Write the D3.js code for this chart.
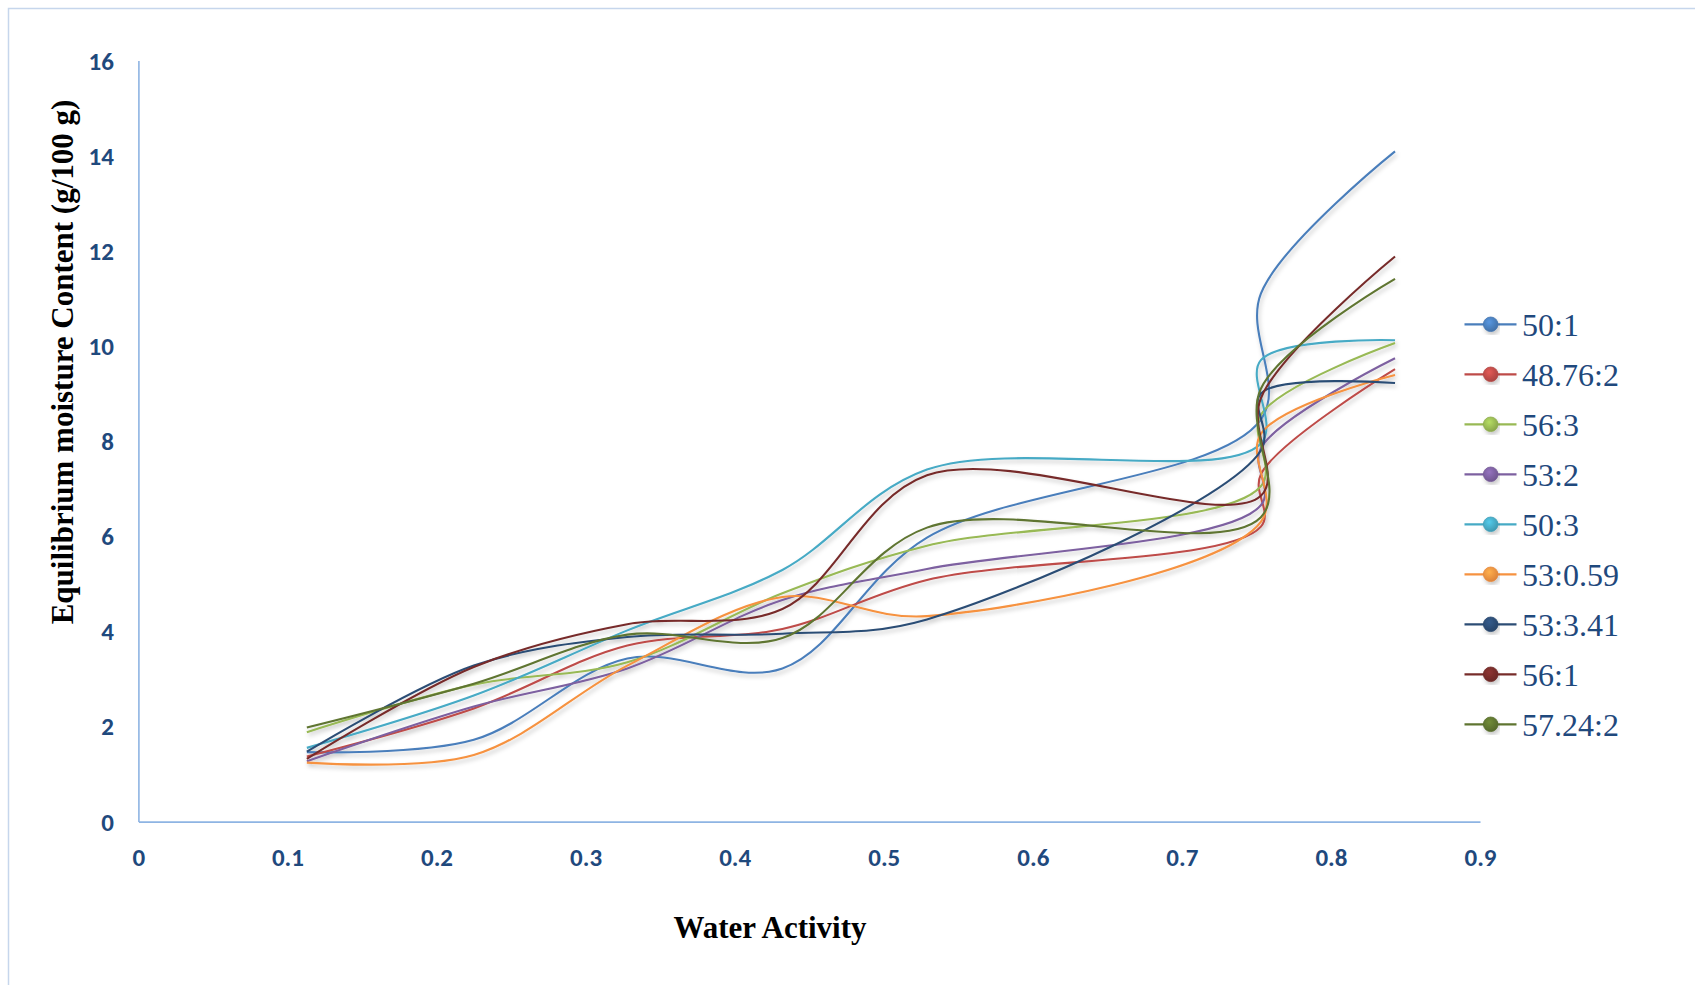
<!DOCTYPE html>
<html>
<head>
<meta charset="utf-8">
<script src="https://cdn.jsdelivr.net/npm/d3@7"></script>
<style>
  html, body { margin: 0; padding: 0; background: #ffffff; }
  svg { display: block; }
</style>
</head>
<body>
<svg id="chart" width="1695" height="985"></svg>
<script>
// ---------------- data ----------------
const waterActivity = [0.113, 0.225, 0.328, 0.432, 0.529, 0.753, 0.753, 0.843];
const seriesNames = ["50:1", "48.76:2", "56:3", "53:2", "50:3", "53:0.59", "53:3.41", "56:1", "57.24:2"];
const s50_1    = [1.46, 1.72, 3.43, 3.22, 5.97, 8.45, 11.1, 14.09];
const s48_76_2 = [1.37, 2.38, 3.70, 4.05, 5.08, 6.20, 7.30, 9.51];
const s56_3    = [1.88, 2.88, 3.35, 4.80, 5.80, 7.05, 8.55, 10.06];
const s53_2    = [1.27, 2.42, 3.22, 4.66, 5.31, 6.65, 7.85, 9.74];
const s50_3    = [1.55, 2.65, 4.02, 5.29, 7.40, 7.95, 9.70, 10.12];
const s53_059  = [1.24, 1.40, 3.28, 4.72, 4.32, 6.30, 8.15, 9.39];
const s53_341  = [1.47, 3.28, 3.88, 3.95, 4.25, 7.80, 9.00, 9.22];
const s56_1    = [1.32, 3.25, 4.15, 4.47, 7.28, 6.85, 8.90, 11.88];
const s57_24_2 = [1.98, 2.90, 3.93, 3.86, 6.18, 6.40, 9.10, 11.41];
const seriesValues = [s50_1, s48_76_2, s56_3, s53_2, s50_3, s53_059, s53_341, s56_1, s57_24_2];
const seriesColors = ["#4a7ebb", "#be4b48", "#98b954", "#7d60a0", "#46aac5", "#f69240", "#2c4d75", "#772c2a", "#5f7530"];
const xTicks = [0, 0.1, 0.2, 0.3, 0.4, 0.5, 0.6, 0.7, 0.8, 0.9];
const yTicks = [0, 2, 4, 6, 8, 10, 12, 14, 16];
const xTitle = "Water Activity";
const yTitle = "Equilibrium moisture Content (g/100 g)";

// ---------------- layout ----------------
const svg = d3.select("#chart");
const x = d3.scaleLinear().domain([0, 0.9]).range([138.4, 1480]);
const y = d3.scaleLinear().domain([0, 16]).range([821.6, 60.5]);

const defs = svg.append("defs");
const f = defs.append("filter").attr("id", "shadow")
  .attr("x", "-10%").attr("y", "-10%").attr("width", "120%").attr("height", "130%");
f.append("feDropShadow").attr("dx", 1.5).attr("dy", 3).attr("stdDeviation", 2)
  .attr("flood-color", "#000").attr("flood-opacity", 0.22);

seriesColors.forEach((c, i) => {
  const g = defs.append("radialGradient").attr("id", "mk" + i)
    .attr("cx", "40%").attr("cy", "35%").attr("r", "65%");
  g.append("stop").attr("offset", "0%").attr("stop-color", d3.color(c).brighter(0.5));
  g.append("stop").attr("offset", "100%").attr("stop-color", d3.color(c).darker(0.3));
});

// outer chart border
svg.append("rect").attr("x", 8.5).attr("y", 8.5).attr("width", 1720).attr("height", 1020)
  .attr("fill", "none").attr("stroke", "#c6d6ec").attr("stroke-width", 1.5);

const tickFont = "Carlito, Lato, 'Open Sans', sans-serif";
const axisColor = "#8eb4e3";

// x axis
const gx = svg.append("g").attr("transform", `translate(0,${y(0)})`)
  .call(d3.axisBottom(x).tickValues(xTicks).tickSize(0).tickSizeOuter(0).tickFormat(d => String(d)));
gx.select(".domain").attr("stroke", axisColor).attr("stroke-width", 1.6);
gx.selectAll("text").attr("y", 35.5).attr("dy", "0.35em")
  .attr("fill", "#1f497d").style("font-family", tickFont).style("font-weight", "bold").style("font-size", "25px");

// y axis
const gy = svg.append("g").attr("transform", `translate(${x(0)},0)`)
  .call(d3.axisLeft(y).tickValues(yTicks).tickSize(0).tickSizeOuter(0).tickFormat(d => String(d)));
gy.select(".domain").attr("stroke", axisColor).attr("stroke-width", 1.6);
gy.selectAll("text").attr("x", -24.5).attr("dy", "0.34em")
  .attr("fill", "#1f497d").style("font-family", tickFont).style("font-weight", "bold").style("font-size", "25px");

// titles
svg.append("text").attr("x", 770).attr("y", 938).attr("text-anchor", "middle")
  .style("font-family", "'Liberation Serif', 'Times New Roman', serif").style("font-weight", "bold")
  .style("font-size", "31px").attr("fill", "#000").text(xTitle);
svg.append("text").attr("transform", "translate(73,362) rotate(-90)").attr("text-anchor", "middle")
  .style("font-family", "'Liberation Serif', 'Times New Roman', serif").style("font-weight", "bold")
  .style("font-size", "31px").attr("fill", "#000").text(yTitle);

// lines
const line = d3.line().x(d => x(d[0])).y(d => y(d[1])).curve(d3.curveCatmullRom.alpha(0.5));
const gl = svg.append("g").attr("filter", "url(#shadow)");
seriesValues.forEach((vals, i) => {
  const pts = waterActivity.map((w, k) => [w, vals[k]]);
  gl.append("path").attr("d", line(pts)).attr("fill", "none")
    .attr("stroke", seriesColors[i]).attr("stroke-width", 2.1).attr("stroke-linejoin", "round");
});

// legend
const leg = svg.append("g");
seriesNames.forEach((name, i) => {
  const cy = 324.3 + i * 50;
  const r = leg.append("g");
  r.append("line").attr("x1", 1464.5).attr("x2", 1516.5).attr("y1", cy).attr("y2", cy)
    .attr("stroke", seriesColors[i]).attr("stroke-width", 2.2);
  r.append("circle").attr("cx", 1490.7).attr("cy", cy).attr("r", 7.3)
    .attr("fill", `url(#mk${i})`).attr("stroke", d3.color(seriesColors[i]).darker(0.2)).attr("stroke-width", 0.8)
    .attr("filter", "url(#shadow)");
  r.append("text").attr("x", 1522).attr("y", cy + 11.3)
    .style("font-family", "'Liberation Serif', 'Times New Roman', serif").style("font-size", "32px")
    .attr("fill", "#1f497d").text(name);
});
</script>
</body>
</html>
